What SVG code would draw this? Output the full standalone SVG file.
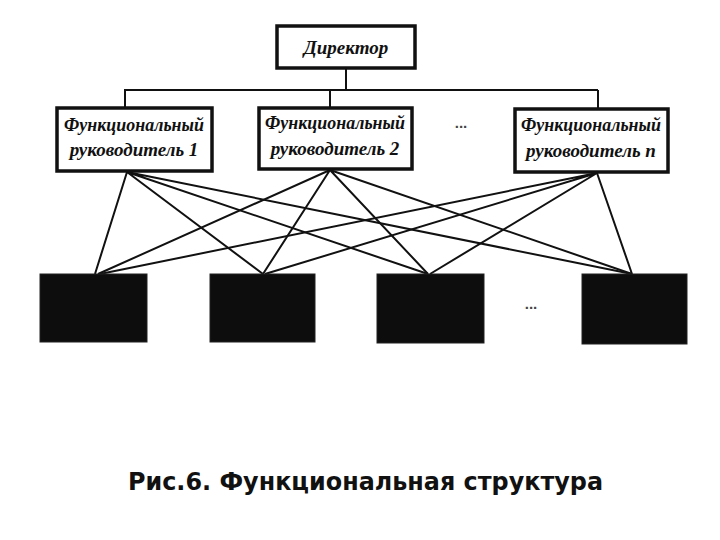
<svg xmlns="http://www.w3.org/2000/svg" width="720" height="540" viewBox="0 0 720 540">
<style>
.box{fill:#fff;stroke:#111;stroke-width:3.5}
.blk{fill:#0d0d0d;stroke:#222;stroke-width:1}
.lbl{font-family:"Liberation Serif",serif;font-weight:bold;font-style:italic;font-size:19px;fill:#111;text-anchor:middle}
.ln{stroke:#111;stroke-width:2;fill:none}
.dots{font-family:"Liberation Sans",sans-serif;font-size:15px;font-weight:bold;fill:#444;text-anchor:middle}
.cap{font-family:"DejaVu Sans",sans-serif;font-weight:bold;font-size:24px;fill:#111}
</style>
<rect width="720" height="540" fill="#fff"/>
<g id="connectors">
<path class="ln" d="M346 68V90M124 90H598M125 90V108M330 90V108M598 90V108" stroke-width="3"/>
<path class="ln" d="M127 172L95 274M127 172L263 274M127 172L428 274M127 172L632 274"/>
<path class="ln" d="M330 170L98 274M330 170L263 274M330 170L428 274M330 170L632 274"/>
<path class="ln" d="M597 173L100 274M597 173L265 274M597 173L430 274M597 173L632 274"/>
</g>
<g id="director">
<rect class="box" x="277" y="26" width="138" height="42"/>
<text class="lbl" x="346" y="54">Директор</text>
</g>
<g id="fr1">
<rect class="box" x="57" y="108" width="155" height="63"/>
<text class="lbl" x="134" y="131" textLength="140" lengthAdjust="spacingAndGlyphs">Функциональный</text>
<text class="lbl" x="134" y="156">руководитель 1</text>
</g>
<g id="fr2">
<rect class="box" x="259" y="108" width="153" height="61"/>
<text class="lbl" x="335" y="129" textLength="140" lengthAdjust="spacingAndGlyphs">Функциональный</text>
<text class="lbl" x="335" y="155">руководитель 2</text>
</g>
<g id="frn">
<rect class="box" x="515" y="109" width="153" height="63"/>
<text class="lbl" x="591" y="131" textLength="140" lengthAdjust="spacingAndGlyphs">Функциональный</text>
<text class="lbl" x="591" y="157">руководитель n</text>
</g>
<text class="dots" x="461" y="128">...</text>
<g id="b1"><rect class="blk" x="40" y="274" width="107" height="68"/></g>
<g id="b2"><rect class="blk" x="210" y="274" width="105" height="68"/></g>
<g id="b3"><rect class="blk" x="377" y="274" width="107" height="69"/></g>
<g id="b4"><rect class="blk" x="582" y="274" width="105" height="70"/></g>
<text class="dots" x="531" y="309">...</text>
<text class="cap" x="128" y="490" textLength="475" lengthAdjust="spacingAndGlyphs">Рис.6. Функциональная структура</text>
</svg>
